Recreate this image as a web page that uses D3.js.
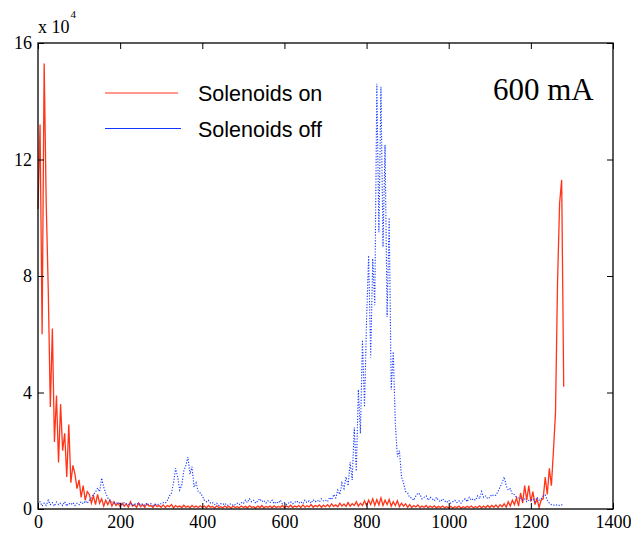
<!DOCTYPE html>
<html>
<head>
<meta charset="utf-8">
<script src="https://cdn.jsdelivr.net/npm/d3@7"></script>
<style>
  body { margin: 0; background: #fff; }
  svg { display: block; }
</style>
</head>
<body>
<svg id="chart"></svg>
<script>
var width = 631,
    height = 534;

// sample spacing along x (channel units)
var step = 5;

// values in units of 10^4, one every 5 channels from 0 to 1280
var solenoids_on = [
  10.3, 13.2, 6.0, 15.3, 10.5, 7.5, 3.5, 6.2, 2.3, 3.9, 1.6, 3.6, 2.0, 2.6, 1.1, 2.9, 0.9, 1.5, 1.2, 0.7,
  1.0, 0.4, 0.8, 0.3, 0.6, 0.5, 0.2, 0.45, 0.15, 0.5, 0.2, 0.35, 0.1, 0.3, 0.15, 0.3, 0.1, 0.25, 0.12, 0.2,
  0.08, 0.2, 0.1, 0.18, 0.06, 0.25, 0.1, 0.15, 0.05, 0.2, 0.08, 0.15, 0.06, 0.18, 0.1, 0.12, 0.05, 0.16, 0.08, 0.12,
  0.06, 0.14, 0.05, 0.12, 0.08, 0.15, 0.04, 0.12, 0.07, 0.1, 0.05, 0.13, 0.06, 0.1, 0.04, 0.12, 0.06, 0.1, 0.05, 0.11,
  0.05, 0.1, 0.04, 0.12, 0.06, 0.09, 0.03, 0.11, 0.05, 0.08, 0.04, 0.1, 0.05, 0.09, 0.03, 0.1, 0.05, 0.08, 0.04, 0.1,
  0.05, 0.09, 0.04, 0.11, 0.06, 0.08, 0.03, 0.1, 0.05, 0.12, 0.04, 0.09, 0.06, 0.1, 0.04, 0.11, 0.05, 0.09, 0.06, 0.12,
  0.05, 0.1, 0.06, 0.13, 0.05, 0.1, 0.07, 0.12, 0.05, 0.14, 0.06, 0.11, 0.07, 0.15, 0.06, 0.12, 0.08, 0.14, 0.06, 0.13,
  0.08, 0.15, 0.07, 0.18, 0.09, 0.14, 0.08, 0.2, 0.1, 0.17, 0.09, 0.22, 0.1, 0.18, 0.12, 0.25, 0.1, 0.2, 0.12, 0.28,
  0.12, 0.3, 0.15, 0.35, 0.12, 0.32, 0.14, 0.38, 0.12, 0.3, 0.15, 0.33, 0.1, 0.25, 0.12, 0.28, 0.08, 0.2, 0.1, 0.18,
  0.06, 0.15, 0.05, 0.12, 0.07, 0.14, 0.05, 0.1, 0.06, 0.12, 0.04, 0.1, 0.05, 0.11, 0.04, 0.09, 0.05, 0.1, 0.04, 0.08,
  0.04, 0.09, 0.03, 0.08, 0.05, 0.1, 0.03, 0.08, 0.04, 0.09, 0.05, 0.1, 0.04, 0.08, 0.05, 0.11, 0.04, 0.1, 0.05, 0.12,
  0.05, 0.12, 0.06, 0.14, 0.05, 0.15, 0.08, 0.18, 0.06, 0.25, 0.1, 0.3, 0.15, 0.38, 0.1, 0.55, 0.2, 0.8, 0.3, 0.8,
  0.25, 0.6, 0.15, 0.35, 0.05, 0.3, 0.35, 1.1, 0.5, 1.4, 0.8, 2.0, 3.3, 7.8, 10.5, 11.3, 4.2
];

var solenoids_off = [
  0.15, 0.25, 0.1, 0.2, 0.12, 0.3, 0.15, 0.22, 0.1, 0.24, 0.15, 0.2, 0.12, 0.25, 0.1, 0.2, 0.15, 0.22, 0.12, 0.2,
  0.15, 0.25, 0.18, 0.28, 0.2, 0.3, 0.38, 0.5, 0.58, 0.72, 0.6, 1.06, 0.75, 0.55, 0.38, 0.3, 0.24, 0.2, 0.22, 0.18,
  0.2, 0.15, 0.22, 0.18, 0.15, 0.2, 0.12, 0.18, 0.15, 0.2, 0.14, 0.18, 0.12, 0.2, 0.15, 0.18, 0.12, 0.16, 0.14, 0.18,
  0.18, 0.22, 0.2, 0.3, 0.45, 0.55, 0.9, 1.4, 1.1, 0.65, 0.82, 1.3, 1.5, 1.78, 1.2, 1.45, 0.75, 0.9, 0.6, 0.55,
  0.45, 0.3, 0.25, 0.3, 0.2, 0.22, 0.15, 0.2, 0.12, 0.18, 0.15, 0.2, 0.12, 0.15, 0.18, 0.12, 0.15, 0.2, 0.15, 0.22,
  0.18, 0.3, 0.22, 0.35, 0.25, 0.3, 0.2, 0.28, 0.35, 0.25, 0.3, 0.2, 0.28, 0.22, 0.3, 0.18, 0.25, 0.2, 0.3, 0.18,
  0.22, 0.15, 0.2, 0.25, 0.18, 0.22, 0.28, 0.2, 0.25, 0.18, 0.3, 0.22, 0.28, 0.2, 0.32, 0.25, 0.3, 0.24, 0.35, 0.28,
  0.3, 0.25, 0.4, 0.32, 0.5, 0.38, 0.65, 0.5, 0.9, 0.7, 1.1, 0.8, 1.6, 1.0, 2.8, 1.3, 4.1, 2.6, 5.8, 3.5,
  6.5, 8.7, 5.2, 8.6, 7.0, 14.6, 9.5, 14.5, 9.0, 12.5, 6.6, 10.0, 4.1, 5.4, 2.95, 1.8, 2.0, 1.1, 0.9, 0.6,
  0.55, 0.4, 0.38, 0.3, 0.45, 0.55, 0.5, 0.35, 0.4, 0.45, 0.3, 0.4, 0.35, 0.28, 0.4, 0.3, 0.25, 0.35, 0.28, 0.22,
  0.3, 0.2, 0.25, 0.3, 0.22, 0.28, 0.2, 0.3, 0.35, 0.25, 0.4, 0.3, 0.35, 0.3, 0.45, 0.35, 0.6, 0.4, 0.45, 0.35,
  0.4, 0.5, 0.45, 0.48, 0.6, 0.75, 0.9, 1.1, 0.8, 0.65, 0.7, 0.5, 0.5, 0.4, 0.38, 0.38, 0.3, 0.35, 0.25, 0.3,
  0.3, 0.35, 0.25, 0.4, 0.3, 0.35, 0.45, 0.48, 0.3, 0.2, 0.15, 0.14, 0.12, 0.15, 0.12, 0.14, 0.13
];

var x_ticks = [0, 200, 400, 600, 800, 1000, 1200, 1400],
    y_ticks = [0, 4, 8, 12, 16];

var legend_labels = ["Solenoids on", "Solenoids off"],
    colors = ["#ff3419", "#1436ff"];

var margin = {left: 38, right: 18, top: 43, bottom: 25};
var plot_w = width - margin.left - margin.right,
    plot_h = height - margin.top - margin.bottom;

var svg = d3.select("#chart")
    .attr("width", width)
    .attr("height", height);

var g = svg.append("g")
    .attr("transform", "translate(" + margin.left + "," + margin.top + ")");

var x = d3.scaleLinear().domain([0, 1400]).range([0, plot_w]),
    y = d3.scaleLinear().domain([0, 16]).range([plot_h, 0]);

var line = d3.line()
    .x(function(d, i) { return x(i * step); })
    .y(function(d) { return y(d); });

g.append("path")
    .datum(solenoids_on)
    .attr("fill", "none")
    .attr("stroke", colors[0])
    .attr("stroke-width", 1.3)
    .attr("d", line);

g.append("path")
    .datum(solenoids_off)
    .attr("fill", "none")
    .attr("stroke", colors[1])
    .attr("stroke-width", 1.1)
    .attr("stroke-dasharray", "1.2,1.6")
    .attr("d", line);

// axes with inward ticks
function style_axis(sel) {
  sel.select(".domain").remove();
  sel.selectAll(".tick line").attr("stroke", "#000");
  sel.selectAll("text")
      .attr("fill", "#000")
      .style("font-family", "'Liberation Serif', 'Times New Roman', serif")
      .style("font-size", "18px");
}

g.append("g")
    .attr("transform", "translate(0," + plot_h + ")")
    .call(d3.axisBottom(x).tickValues(x_ticks).tickFormat(d3.format("d"))
      .tickSizeInner(-6).tickSizeOuter(0).tickPadding(6))
    .call(style_axis);

g.append("g")
    .call(d3.axisLeft(y).tickValues(y_ticks).tickFormat(d3.format("d"))
      .tickSizeInner(-6).tickSizeOuter(0).tickPadding(6))
    .call(style_axis);

g.append("g")
    .call(d3.axisTop(x).tickValues(x_ticks).tickSizeInner(-6).tickSizeOuter(0).tickFormat(""))
    .call(style_axis);

g.append("g")
    .attr("transform", "translate(" + plot_w + ",0)")
    .call(d3.axisRight(y).tickValues(y_ticks).tickSizeInner(-6).tickSizeOuter(0).tickFormat(""))
    .call(style_axis);

g.append("rect")
    .attr("width", plot_w)
    .attr("height", plot_h)
    .attr("fill", "none")
    .attr("stroke", "#000")
    .attr("stroke-width", 1.3);

// exponent label
var expo = svg.append("text")
    .attr("x", margin.left)
    .attr("y", 33)
    .style("font-family", "'Liberation Serif', 'Times New Roman', serif")
    .style("font-size", "18px")
    .text("x 10");
expo.append("tspan")
    .attr("dy", -15)
    .attr("dx", 1)
    .style("font-size", "11px")
    .text("4");

// legend
var legend = svg.append("g");
legend_labels.forEach(function(lab, i) {
  var ly = 93 + i * 35.5;
  legend.append("line")
      .attr("x1", 105).attr("x2", 178 + i * 3)
      .attr("y1", ly).attr("y2", ly)
      .attr("stroke", colors[i])
      .attr("stroke-width", 1.2);
  legend.append("text")
      .attr("x", 198)
      .attr("y", ly + 8)
      .style("font-family", "'Liberation Sans', Arial, sans-serif")
      .style("font-size", "21.5px")
      .attr("fill", "#000")
      .text(lab);
});

svg.append("text")
    .attr("x", 493)
    .attr("y", 100)
    .style("font-family", "'Liberation Serif', 'Times New Roman', serif")
    .style("font-size", "31px")
    .text("600 mA");
</script>
</body>
</html>
